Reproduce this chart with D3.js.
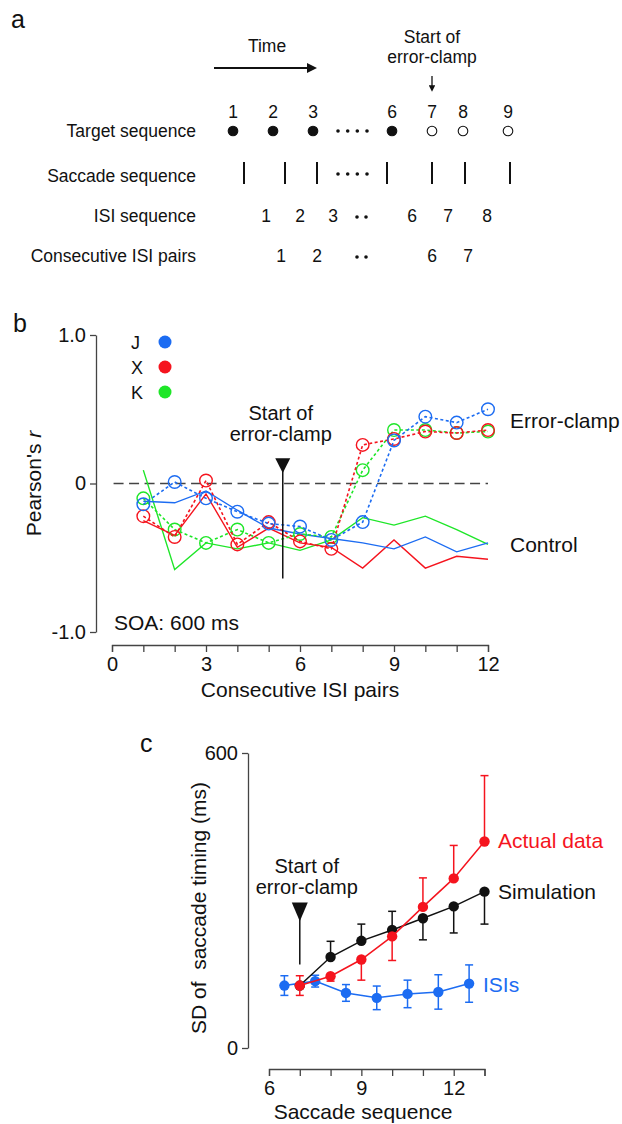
<!DOCTYPE html>
<html>
  <head>
    <meta charset="UTF-8">
    <style>
      body {
        margin: 0;
        background: white;
      }

      svg text {
        font-family: "Liberation Sans", Arial, sans-serif;
        fill: #111;
      }

      .axis .domain,
      .axis .tick line {
        stroke: #444;
        stroke-width: 1.3;
      }

      .axis text {
        font-size: 20px;
        fill: #111;
      }
    </style>
    <script src="https://d3js.org/d3.v7.min.js"></script>
  </head>

  <body>
    <svg id="figure"></svg>

    <script type="text/javascript">
      // panel a: sequence schematic (positions on a schematic time axis)
      const targetNumbers = ['1', '2', '3', '6', '7', '8', '9']
      const targetPos = [20, 60, 100, 179, 219, 250, 295]
      const targetOpen = [false, false, false, false, true, true, true]
      const saccadePos = [31, 72, 104, 174, 219, 252, 297]
      const isiLabels = ['1', '2', '3', '6', '7', '8']
      const isiPos = [53, 87, 120, 199, 235, 274]
      const pairLabels = ['1', '2', '6', '7']
      const pairPos = [68, 104, 219, 255]
      const fourDotPos = [125, 134.7, 144.3, 154]
      const twoDotPos = [144, 153]
      const clampTime = 219
      const rowLabels = ['Target sequence', 'Saccade sequence', 'ISI sequence', 'Consecutive ISI pairs']

      // panel b: Pearson's r per consecutive ISI pair
      const pairs = [1, 2, 3, 4, 5, 6, 7, 8, 9, 10, 11, 12]
      const jClamp = [-0.14, 0.01, -0.10, -0.19, -0.27, -0.29, -0.38, -0.26, 0.29, 0.45, 0.41, 0.50]
      const xClamp = [-0.22, -0.36, 0.02, -0.41, -0.26, -0.39, -0.44, 0.26, 0.30, 0.35, 0.34, 0.36]
      const kClamp = [-0.10, -0.31, -0.40, -0.31, -0.40, -0.34, -0.36, 0.09, 0.36, 0.36, 0.34, 0.35]
      const jControl = [-0.12, -0.13, -0.05, -0.18, -0.30, -0.34, -0.37, -0.40, -0.44, -0.36, -0.46, -0.40]
      const xControl = [-0.25, -0.35, -0.07, -0.43, -0.30, -0.40, -0.43, -0.57, -0.38, -0.57, -0.49, -0.51]
      const kControl = [0.09, -0.58, -0.40, -0.44, -0.40, -0.45, -0.38, -0.23, -0.28, -0.22, -0.31, -0.41]
      const subjects = ['J', 'X', 'K']
      const rTicks = [-1, 0, 1]
      const rTickLabels = ['-1.0', '0', '1.0']
      const pairTicks = [0, 3, 6, 9, 12]
      const clampPair = 5.45

      // panel c: SD of saccade timing
      const saccades = [7, 8, 9, 10, 11, 12, 13]
      const actual = [127, 146, 180, 227, 287, 345, 420]
      const actualErrUp = [20, 0, 0, 0, 59, 67, 134]
      const actualErrDown = [20, 10, 42, 49, 0, 0, 0]
      const simulation = [127, 185, 218, 240, 264, 288, 318]
      const simErrUp = [0, 32, 34, 38, 0, 0, 0]
      const simErrDown = [0, 0, 0, 0, 44, 54, 66]
      const isiX = [6.5, 7.5, 8.5, 9.5, 10.5, 11.5, 12.5]
      const isiSD = [127, 136, 112, 102, 110, 114, 131]
      const isiErr = [20, 12, 17, 24, 28, 35, 38]
      const sdTicks = [0, 600]
      const seqTicks = [6, 9, 12]

      const colors = { J: '#1c6cf2', X: '#f5141e', K: '#1ee628' }

      let svg = d3.select('#figure')
        .attr('width', 622)
        .attr('height', 1124)

      function panelLetter(x, y, t) {
        svg.append('text').attr('x', x).attr('y', y)
          .style('font-size', '25px').text(t)
      }

      function drawPanelA() {
        let x = d3.scaleLinear().domain([0, 300]).range([213, 513])
        let g = svg.append('g').style('font-size', '17.5px')
        panelLetter(11, 28, 'a')

        let defs = svg.append('defs')
        defs.append('marker')
          .attr('id', 'arrowHead')
          .attr('viewBox', '0 0 10 10')
          .attr('refX', 1).attr('refY', 5)
          .attr('markerWidth', 5).attr('markerHeight', 5)
          .attr('markerUnits', 'strokeWidth')
          .attr('orient', 'auto')
          .append('path').attr('d', 'M0,0 L10,5 L0,10 z').attr('fill', '#111')

        g.append('text').attr('x', 267).attr('y', 52).attr('text-anchor', 'middle').text('Time')
        g.append('line').attr('x1', 214).attr('x2', 308).attr('y1', 68).attr('y2', 68)
          .attr('stroke', '#111').attr('stroke-width', 2).attr('marker-end', 'url(#arrowHead)')

        g.append('text').attr('x', x(clampTime)).attr('y', 43).attr('text-anchor', 'middle').text('Start of')
        g.append('text').attr('x', x(clampTime)).attr('y', 63).attr('text-anchor', 'middle').text('error-clamp')
        g.append('line').attr('x1', x(clampTime)).attr('x2', x(clampTime)).attr('y1', 76).attr('y2', 86)
          .attr('stroke', '#111').attr('stroke-width', 1.3).attr('marker-end', 'url(#arrowHead)')

        let labelY = [137, 182, 222, 262]
        g.selectAll('.row-label').data(rowLabels).join('text')
          .attr('class', 'row-label')
          .attr('x', 196).attr('y', (d, i) => labelY[i])
          .attr('text-anchor', 'end').text(d => d)

        g.selectAll('.target-num').data(targetNumbers).join('text')
          .attr('class', 'target-num')
          .attr('x', (d, i) => x(targetPos[i])).attr('y', 118)
          .attr('text-anchor', 'middle').text(d => d)

        g.selectAll('.target-dot').data(targetPos).join('circle')
          .attr('class', 'target-dot')
          .attr('cx', d => x(d)).attr('cy', 131).attr('r', 4.8)
          .attr('fill', (d, i) => targetOpen[i] ? 'white' : '#111')
          .attr('stroke', '#111').attr('stroke-width', 1.1)

        g.selectAll('.saccade').data(saccadePos).join('line')
          .attr('class', 'saccade')
          .attr('x1', d => x(d)).attr('x2', d => x(d))
          .attr('y1', 162).attr('y2', 184)
          .attr('stroke', '#111').attr('stroke-width', 2)

        g.selectAll('.isi').data(isiLabels).join('text')
          .attr('class', 'isi')
          .attr('x', (d, i) => x(isiPos[i])).attr('y', 222)
          .attr('text-anchor', 'middle').text(d => d)

        g.selectAll('.pair').data(pairLabels).join('text')
          .attr('class', 'pair')
          .attr('x', (d, i) => x(pairPos[i])).attr('y', 262)
          .attr('text-anchor', 'middle').text(d => d)

        // ellipsis dots
        g.selectAll('.dots4a').data(fourDotPos).join('circle')
          .attr('cx', d => x(d)).attr('cy', 131).attr('r', 1.8).attr('fill', '#111')
        g.selectAll('.dots4b').data(fourDotPos).join('circle')
          .attr('cx', d => x(d)).attr('cy', 174).attr('r', 1.8).attr('fill', '#111')
        g.selectAll('.dots2a').data(twoDotPos).join('circle')
          .attr('cx', d => x(d)).attr('cy', 217).attr('r', 1.8).attr('fill', '#111')
        g.selectAll('.dots2b').data(twoDotPos).join('circle')
          .attr('cx', d => x(d)).attr('cy', 257).attr('r', 1.8).attr('fill', '#111')
      }

      function drawPanelB() {
        let x = d3.scaleLinear().domain([0, 12]).range([112, 488])
        let y = d3.scaleLinear().domain([-1, 1]).range([632, 335])
        panelLetter(13, 332, 'b')

        let axisY = d3.axisLeft(y).tickValues(rTicks).tickFormat((d, i) => rTickLabels[i])
          .tickSize(6).tickSizeOuter(0).tickPadding(4)
        svg.append('g').attr('class', 'axis')
          .attr('transform', 'translate(96,0)').call(axisY)

        let axisX = d3.axisBottom(x).ticks(12).tickFormat(d => pairTicks.includes(d) ? d : '')
          .tickSize(7).tickSizeOuter(7).tickPadding(5)
        svg.append('g').attr('class', 'axis')
          .attr('transform', 'translate(0,645)').call(axisX)

        svg.append('text').attr('x', x(6)).attr('y', 697)
          .attr('text-anchor', 'middle').style('font-size', '21px').text('Consecutive ISI pairs')

        let yl = svg.append('text')
          .attr('transform', `translate(41,${y(0)}) rotate(-90)`)
          .attr('text-anchor', 'middle').style('font-size', '21px')
        yl.append('tspan').text("Pearson's ")
        yl.append('tspan').style('font-style', 'italic').text('r')

        svg.append('line')
          .attr('x1', x(0.05)).attr('x2', x(12)).attr('y1', y(0)).attr('y2', y(0))
          .attr('stroke', '#444').attr('stroke-width', 1.5).attr('stroke-dasharray', '10 5.5')

        let line = d3.line().x((d, i) => x(pairs[i])).y(d => y(d))

        let control = { J: jControl, X: xControl, K: kControl }
        let clamp = { J: jClamp, X: xClamp, K: kClamp }

        ;['K', 'X', 'J'].forEach(s => {
          svg.append('path').datum(control[s]).attr('d', line)
            .attr('fill', 'none').attr('stroke', colors[s]).attr('stroke-width', 1.4)
        })
        ;['K', 'X', 'J'].forEach(s => {
          svg.append('path').datum(clamp[s]).attr('d', line)
            .attr('fill', 'none').attr('stroke', colors[s]).attr('stroke-width', 1.6)
            .attr('stroke-dasharray', '3 2.5')
          svg.selectAll('.c' + s).data(clamp[s]).join('circle')
            .attr('cx', (d, i) => x(pairs[i])).attr('cy', d => y(d)).attr('r', 6.3)
            .attr('fill', 'none').attr('stroke', colors[s]).attr('stroke-width', 1.4)
        })

        // legend
        subjects.forEach((s, i) => {
          svg.append('text').attr('x', 131).attr('y', 349 + i * 25).style('font-size', '18px').text(s)
          svg.append('circle').attr('cx', 165).attr('cy', 342 + i * 25).attr('r', 6.5).attr('fill', colors[s])
        })

        // start of error-clamp marker
        let cx = x(clampPair)
        svg.append('text').attr('x', cx - 2).attr('y', 420).attr('text-anchor', 'middle')
          .style('font-size', '20px').text('Start of')
        svg.append('text').attr('x', cx - 2).attr('y', 441).attr('text-anchor', 'middle')
          .style('font-size', '20px').text('error-clamp')
        svg.append('path')
          .attr('d', `M${cx - 7.5},${y(0.17)} L${cx + 7.5},${y(0.17)} L${cx},${y(0.07)} Z`)
          .attr('fill', '#111')
        svg.append('line').attr('x1', cx).attr('x2', cx).attr('y1', y(0.1)).attr('y2', y(-0.64))
          .attr('stroke', '#111').attr('stroke-width', 1.5)

        svg.append('text').attr('x', 510).attr('y', 428).style('font-size', '21px').text('Error-clamp')
        svg.append('text').attr('x', 510).attr('y', 552).style('font-size', '21px').text('Control')
        svg.append('text').attr('x', 114).attr('y', 630).style('font-size', '21px').text('SOA: 600 ms')
      }

      function drawPanelC() {
        let x = d3.scaleLinear().domain([6, 13]).range([269, 484.5])
        let y = d3.scaleLinear().domain([0, 600]).range([1048, 753])
        panelLetter(140, 752, 'c')

        svg.append('g').attr('class', 'axis')
          .attr('transform', 'translate(248,0)')
          .call(d3.axisLeft(y).tickValues(sdTicks).tickSize(6).tickSizeOuter(0).tickPadding(4))

        svg.append('g').attr('class', 'axis')
          .attr('transform', 'translate(0,1069)')
          .call(d3.axisBottom(x).ticks(7).tickFormat(d => seqTicks.includes(d) ? d : '')
            .tickSize(7).tickSizeOuter(7).tickPadding(5))

        svg.append('text').attr('x', 363).attr('y', 1119)
          .attr('text-anchor', 'middle').style('font-size', '21px').text('Saccade sequence')
        svg.append('text')
          .attr('transform', `translate(206,908) rotate(-90)`)
          .attr('text-anchor', 'middle').style('font-size', '21px').style('white-space', 'pre')
          .text('SD of  saccade timing (ms)')

        function series(xs, ys, up, down, color) {
          let line = d3.line().x((d, i) => x(xs[i])).y(d => y(d))
          let g = svg.append('g')
          g.append('path').datum(ys).attr('d', line)
            .attr('fill', 'none').attr('stroke', color).attr('stroke-width', 1.5)
          ys.forEach((v, i) => {
            let px = x(xs[i])
            if (up[i] > 0) {
              g.append('line').attr('x1', px).attr('x2', px).attr('y1', y(v)).attr('y2', y(v + up[i]))
                .attr('stroke', color).attr('stroke-width', 1.5)
              g.append('line').attr('x1', px - 4).attr('x2', px + 4).attr('y1', y(v + up[i])).attr('y2', y(v + up[i]))
                .attr('stroke', color).attr('stroke-width', 1.5)
            }
            if (down[i] > 0) {
              g.append('line').attr('x1', px).attr('x2', px).attr('y1', y(v)).attr('y2', y(v - down[i]))
                .attr('stroke', color).attr('stroke-width', 1.5)
              g.append('line').attr('x1', px - 4).attr('x2', px + 4).attr('y1', y(v - down[i])).attr('y2', y(v - down[i]))
                .attr('stroke', color).attr('stroke-width', 1.5)
            }
          })
          g.selectAll('circle').data(ys).join('circle')
            .attr('cx', (d, i) => x(xs[i])).attr('cy', d => y(d)).attr('r', 5.2).attr('fill', color)
        }

        series(isiX, isiSD, isiErr, isiErr, colors.J)
        series(saccades, simulation, simErrUp, simErrDown, '#111')
        series(saccades, actual, actualErrUp, actualErrDown, colors.X)

        // start of error-clamp marker
        let cx = x(7)
        svg.append('text').attr('x', cx + 7).attr('y', 873).attr('text-anchor', 'middle')
          .style('font-size', '20px').text('Start of')
        svg.append('text').attr('x', cx + 7).attr('y', 894).attr('text-anchor', 'middle')
          .style('font-size', '20px').text('error-clamp')
        svg.append('path')
          .attr('d', `M${cx - 8},${y(296)} L${cx + 8},${y(296)} L${cx},${y(258)} Z`)
          .attr('fill', '#111')
        svg.append('line').attr('x1', cx).attr('x2', cx).attr('y1', y(270)).attr('y2', y(170))
          .attr('stroke', '#111').attr('stroke-width', 1.5)

        svg.append('text').attr('x', 498).attr('y', 848).style('font-size', '21px')
          .style('fill', colors.X).text('Actual data')
        svg.append('text').attr('x', 498).attr('y', 899).style('font-size', '21px').text('Simulation')
        svg.append('text').attr('x', 483).attr('y', 992).style('font-size', '21px')
          .style('fill', colors.J).text('ISIs')
      }

      drawPanelA()
      drawPanelB()
      drawPanelC()
    </script>
  </body>
</html>
